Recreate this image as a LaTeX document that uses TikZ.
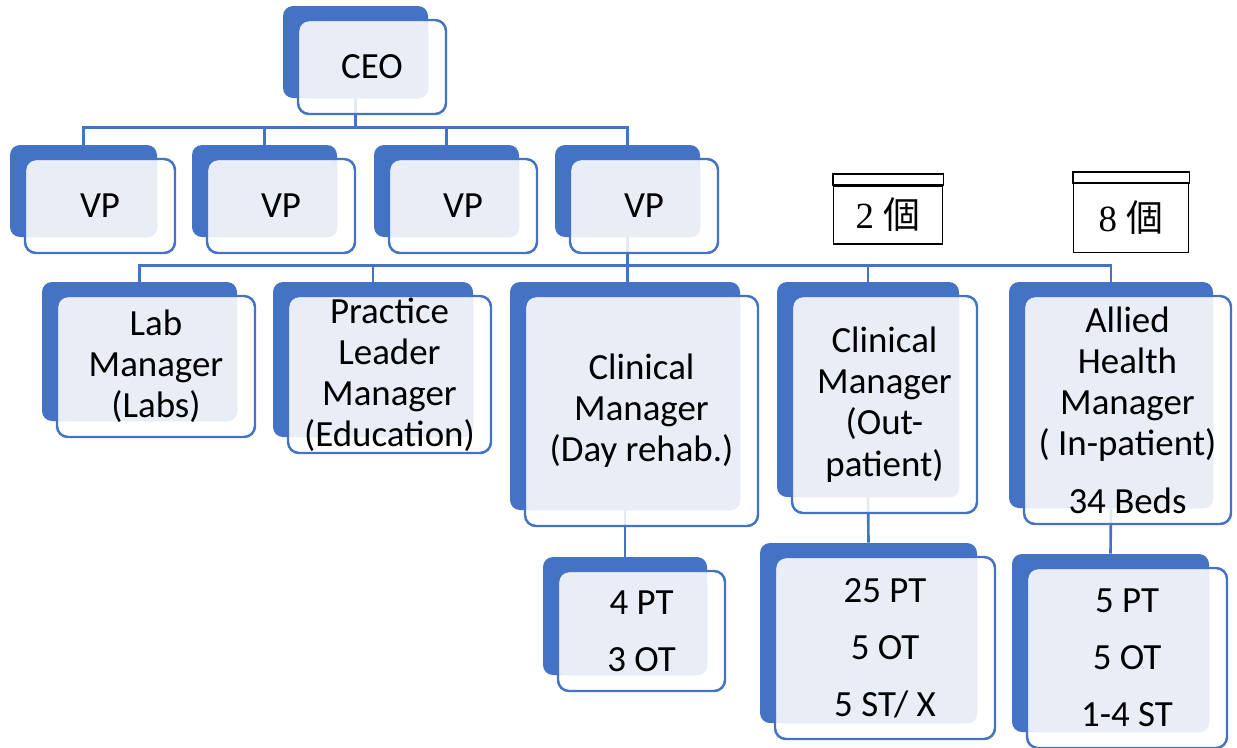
\documentclass[tikz,border=0pt]{standalone}
\usepackage{fontspec}
\setmainfont{Carlito}
\newfontfamily\numfont{Liberation Serif}
\newfontfamily\cjk{Noto Sans CJK TC}
\usetikzlibrary{fit,backgrounds}

\definecolor{orgblue}{HTML}{4472C4}
\definecolor{orglight}{HTML}{E9EDF6}

% blue card behind, offset outlined card in front, text on top
\newcommand\chartbox[4]{%
  \node[backcard, fit={(#2) (#3)}] (#1-back) {};
  \path (#2) ++(15,14) coordinate (#1-nw);
  \path (#3) ++(18,16) coordinate (#1-se);
  \node[frontcard, fit={(#1-nw) (#1-se)}] (#1-front) {};
  \fill[orglight, rounded corners=2mm] (#1-nw) rectangle (#1-back.south east);
  \draw[frontline] (#1-nw) rectangle (#1-se);
  \node[cardtext] (#1) at (#1-front.center) {#4};
}

\begin{document}
\begin{tikzpicture}[x=0.02cm, y=-0.02cm,
    backcard/.style={fill=orgblue, rounded corners=2mm, inner sep=0pt},
    frontcard/.style={fill=white, fill opacity=.85, rounded corners=2mm, inner sep=0pt},
    frontline/.style={draw=orgblue, line width=1.4pt, rounded corners=2.2mm},
    cardtext/.style={align=center, font=\fontsize{21}{23.4}\selectfont},
    countbox/.style={draw=black, line width=1.1pt, inner sep=0pt,
      font=\numfont\fontsize{21}{24}\selectfont},
    link/.style={draw=orgblue, line width=1.5pt}]
    \useasboundingbox (0,0) rectangle (1237,747);

    \chartbox{ceo}{283,6}{428,98}{CEO}

    \chartbox{vp1}{10,145}{157,237}{VP}
    \chartbox{vp2}{192,145}{337,237}{VP}
    \chartbox{vp3}{374,145}{519,237}{VP}
    \chartbox{vp4}{555,145}{700,237}{VP}

    \chartbox{lab}{42,282}{237,421}{Lab\\Manager\\(Labs)}
    \chartbox{edu}{273,282}{473,437}{Practice\\Leader\\Manager\\(Education)}
    \chartbox{day}{510,282}{740,510}{Clinical\\Manager\\(Day rehab.)}
    \chartbox{out}{777,282}{959,497}{Clinical\\Manager\\(Out-\\patient)}
    \chartbox{allied}{1009,282}{1213,508}{Allied\\Health\\Manager\\( In-patient)\\[9.5pt]34 Beds}

    \chartbox{day-staff}{543,557}{707,675}{4 PT\\[9pt]3 OT}
    \chartbox{out-staff}{760,543}{977,723}{25 PT\\[9pt]5 OT\\[9pt]5 ST/ X}
    \chartbox{allied-staff}{1012,554}{1209,732}{5 PT\\[9pt]5 OT\\[9pt]1-4 ST}

    % head counts
    \node[countbox, minimum width=21.8mm, minimum height=11.6mm] (outcount) at (888,215) {2 {\cjk 個}};
    \draw[line width=1.1pt] (outcount.north west) rectangle ([yshift=2.2mm]outcount.north east);
    \node[countbox, minimum width=23mm, minimum height=13.8mm] (alliedcount) at (1131,218) {8 {\cjk 個}};
    \draw[line width=1.1pt] (alliedcount.north west) rectangle ([yshift=2.2mm]alliedcount.north east);

    \begin{scope}[on background layer]
        \draw[link] (vp1-back.north) -- ++(0,-17) coordinate (vpbus) -| (vp4-back.north);
        \draw[link] (ceo-back.south) -- (ceo-back.south |- vpbus);
        \foreach \n in {vp2,vp3}
            \draw[link] (\n-back.north) -- (\n-back.north |- vpbus);

        \draw[link] (lab-back.north) -- ++(0,-16) coordinate (mgrbus) -| (allied-back.north);
        \foreach \n in {edu,out}
            \draw[link] (\n-back.north) -- (\n-back.north |- mgrbus);
        \draw[link] (vp4-back.south) -- (vp4-back.south |- day-back.north);

        \foreach \n in {day,out,allied}
            \draw[link] (\n-back.south) -- (\n-staff-back.north);
    \end{scope}
\end{tikzpicture}
\end{document}
